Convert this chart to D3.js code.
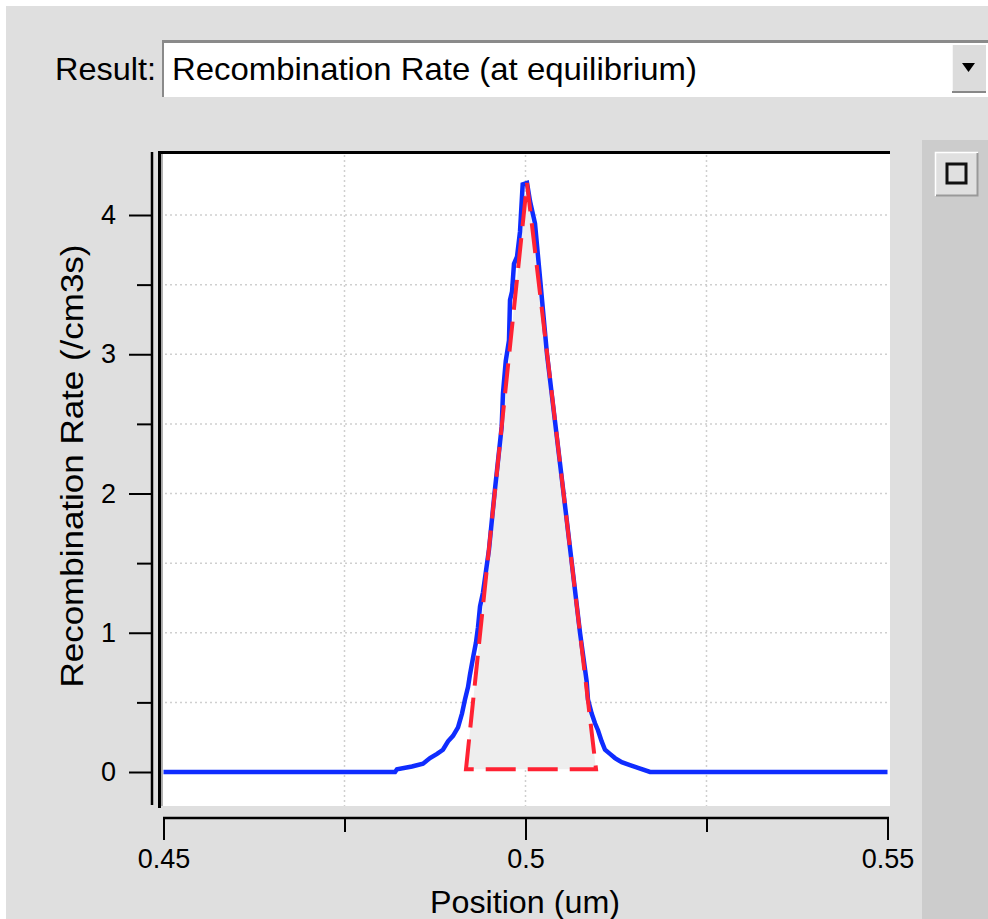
<!DOCTYPE html>
<html><head><meta charset="utf-8">
<script src="https://cdn.jsdelivr.net/npm/d3@7"></script>
<style>
html,body{margin:0;padding:0;background:#fff;}
text{font-family:"Liberation Sans",Arial,sans-serif;}
</style></head>
<body>
<script>
// ---- data ----
const positions = [0.45,0.48198,0.48225,0.48432,0.48584,0.48681,0.48778,0.48860,0.48930,0.48999,0.49068,0.49123,0.49164,0.49206,0.49233,0.49275,0.49316,0.49344,0.49372,0.49413,0.49496,0.49572,0.49671,0.49689,0.49727,0.49772,0.49786,0.49814,0.49841,0.49883,0.49924,0.49961,0.50021,0.50062,0.50131,0.50186,0.50297,0.50526,0.50753,0.50845,0.50863,0.50914,0.50960,0.51001,0.51052,0.51098,0.51167,0.51236,0.51329,0.51443,0.51554,0.51720,0.55];
const rates = [0,0,0.02,0.04,0.06,0.10,0.13,0.16,0.22,0.26,0.32,0.42,0.52,0.61,0.70,0.82,0.93,1.04,1.19,1.29,1.6,2.0,2.48,2.72,2.95,3.10,3.39,3.45,3.65,3.70,3.88,4.22,4.23,4.10,3.94,3.63,3.0,2.0,1.0,0.65,0.52,0.42,0.35,0.30,0.22,0.16,0.13,0.10,0.07,0.05,0.03,0,0];
const trianglePos = [0.49178, 0.50021, 0.50974];
const triangleVal = [0.02, 4.23, 0.02];
const xMajorTicks = [0.45, 0.5, 0.55];
const xMinorTicks = [0.475, 0.525];
const xTickLabels = ["0.45", "0.5", "0.55"];
const yMajorTicks = [0, 1, 2, 3, 4];
const yMinorTicks = [0.5, 1.5, 2.5, 3.5];
const yGrid = [0.5, 1, 1.5, 2, 2.5, 3, 3.5, 4];
const xGrid = [0.475, 0.5, 0.525];
const resultLabel = "Result:";
const resultValue = "Recombination Rate (at equilibrium)";
const xTitle = "Position (um)";
const yTitle = "Recombination Rate (/cm3s)";

// ---- drawing ----
const W = 988, H = 919;
const svg = d3.select("body").append("svg").attr("width", W).attr("height", H);

svg.append("rect").attr("x",0).attr("y",0).attr("width",W).attr("height",H).attr("fill","#ffffff");
svg.append("rect").attr("x",6).attr("y",6).attr("width",W-6).attr("height",H-6).attr("fill","#dfdfdf");

// combo box
svg.append("text").attr("x",55).attr("y",80).attr("font-size",32).attr("textLength",101).attr("lengthAdjust","spacingAndGlyphs").attr("fill","#000").text(resultLabel);
svg.append("rect").attr("x",162).attr("y",40).attr("width",830).attr("height",57).attr("fill","#ffffff");
svg.append("line").attr("x1",162).attr("x2",992).attr("y1",41.5).attr("y2",41.5).attr("stroke","#8a8a8a").attr("stroke-width",3);
svg.append("line").attr("x1",163).attr("x2",163).attr("y1",40).attr("y2",97).attr("stroke","#8a8a8a").attr("stroke-width",2);
svg.append("text").attr("x",172).attr("y",80).attr("font-size",32).attr("textLength",525).attr("lengthAdjust","spacingAndGlyphs").attr("fill","#000").text(resultValue);
// dropdown button
svg.append("rect").attr("x",952).attr("y",45).attr("width",34).attr("height",48).attr("fill","#dcdcdc");
svg.append("line").attr("x1",952).attr("x2",952).attr("y1",45).attr("y2",93).attr("stroke","#fff").attr("stroke-width",1.5);
svg.append("line").attr("x1",952).attr("x2",986).attr("y1",92).attr("y2",92).attr("stroke","#888").attr("stroke-width",2);
svg.append("path").attr("d","M962,63 L975,63 L968.5,72 Z").attr("fill","#000");

// right panel
svg.append("rect").attr("x",922).attr("y",140).attr("width",66).attr("height",H-140).attr("fill","#cccccc");
svg.append("rect").attr("x",935).attr("y",152).attr("width",43).attr("height",44).attr("fill","#e0e0e0");
svg.append("path").attr("d","M935.5,196 L935.5,152.5 L978,152.5").attr("fill","none").attr("stroke","#ffffff").attr("stroke-width",1.5);
svg.append("path").attr("d","M936,195.5 L977.5,195.5 L977.5,153").attr("fill","none").attr("stroke","#999").attr("stroke-width",2);
svg.append("rect").attr("x",947).attr("y",164).attr("width",19).attr("height",19).attr("fill","none").attr("stroke","#111").attr("stroke-width",3);

// plot area
const plotL = 162, plotR = 890, plotT = 152, plotB = 806;
svg.append("rect").attr("x",plotL).attr("y",plotT).attr("width",plotR-plotL).attr("height",plotB-plotT).attr("fill","#ffffff");

const x = d3.scaleLinear().domain([0.45,0.55]).range([163.5,887.5]);
const y = d3.scaleLinear().domain([0,4]).range([772,215]);

// grid
const grid = svg.append("g").attr("stroke","#cfcfcf").attr("stroke-width",1.5).attr("stroke-dasharray","2,3");
grid.selectAll(".gy").data(yGrid).join("line")
  .attr("x1",plotL+3).attr("x2",plotR).attr("y1",d=>y(d)).attr("y2",d=>y(d));
grid.selectAll(".gx").data(xGrid).join("line")
  .attr("y1",plotT+3).attr("y2",plotB).attr("x1",d=>x(d)).attr("x2",d=>x(d));

// triangle fill
const tri = trianglePos.map((p,i)=>[p, triangleVal[i]]);
const triLine = d3.line().x(d=>x(d[0])).y(d=>y(d[1]));
svg.append("path").attr("d", triLine(tri)+"Z").attr("fill","#eeeeee");

// blue curve
const curve = positions.map((p,i)=>[p, rates[i]]);
svg.append("path").attr("d", d3.line().x(d=>x(d[0])).y(d=>y(d[1]))(curve))
  .attr("fill","none").attr("stroke","#0f2cff").attr("stroke-width",4.5).attr("stroke-linejoin","miter");

// red dashed triangle
svg.append("path").attr("d", triLine(tri)+"Z").attr("fill","none")
  .attr("stroke","#ff2233").attr("stroke-width",4).attr("stroke-dasharray","30,12");

// plot frame (top + left)
svg.append("line").attr("x1",158).attr("x2",890).attr("y1",152.5).attr("y2",152.5).attr("stroke","#000").attr("stroke-width",3);
svg.append("line").attr("x1",159.5).attr("x2",159.5).attr("y1",151).attr("y2",808).attr("stroke","#000").attr("stroke-width",3);
svg.append("line").attr("x1",162).attr("x2",162).attr("y1",154).attr("y2",806).attr("stroke","#999").attr("stroke-width",1.5);

// y axis
svg.append("line").attr("x1",152).attr("x2",152).attr("y1",152).attr("y2",805).attr("stroke","#000").attr("stroke-width",2.5);
const yAxis = svg.append("g").attr("transform","translate(152,0)")
  .call(d3.axisLeft(y).tickValues(yMajorTicks).tickSize(23).tickPadding(13).tickFormat(d3.format("d")));
yAxis.select(".domain").remove();
yAxis.selectAll(".tick line").attr("stroke","#000").attr("stroke-width",2);
yAxis.selectAll(".tick text").attr("font-size",27).attr("fill","#000").attr("font-family","Liberation Sans, Arial, sans-serif");
const yMinor = svg.append("g").attr("transform","translate(152,0)")
  .call(d3.axisLeft(y).tickValues(yMinorTicks).tickSize(15).tickFormat(""));
yMinor.select(".domain").remove();
yMinor.selectAll(".tick line").attr("stroke","#000").attr("stroke-width",2);

// x axis
svg.append("line").attr("x1",163).attr("x2",889).attr("y1",818).attr("y2",818).attr("stroke","#000").attr("stroke-width",2.5);
const xAxis = svg.append("g").attr("transform","translate(0,818)")
  .call(d3.axisBottom(x).tickValues(xMajorTicks).tickSize(22).tickPadding(9).tickFormat((d,i)=>xTickLabels[i]));
xAxis.select(".domain").remove();
xAxis.selectAll(".tick line").attr("stroke","#000").attr("stroke-width",2);
xAxis.selectAll(".tick text").attr("font-size",27).attr("fill","#000").attr("font-family","Liberation Sans, Arial, sans-serif");
const xMinor = svg.append("g").attr("transform","translate(0,818)")
  .call(d3.axisBottom(x).tickValues(xMinorTicks).tickSize(14).tickFormat(""));
xMinor.select(".domain").remove();
xMinor.selectAll(".tick line").attr("stroke","#000").attr("stroke-width",2);

// titles
svg.append("text").attr("x",525).attr("y",913).attr("text-anchor","middle").attr("font-size",31).attr("textLength",190).attr("lengthAdjust","spacingAndGlyphs").attr("fill","#000").text(xTitle);
svg.append("text").attr("transform","translate(83,466) rotate(-90)").attr("text-anchor","middle").attr("font-size",31).attr("textLength",443).attr("lengthAdjust","spacingAndGlyphs").attr("fill","#000").text(yTitle);
</script>
</body></html>
